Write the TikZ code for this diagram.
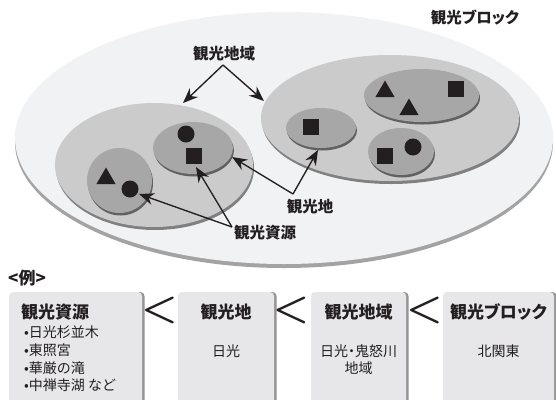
\documentclass[tikz,border=0pt]{standalone}
\usepackage{fontspec}
\usepackage{graphicx}
\newfontfamily\jp{Noto Sans CJK JP}
\newfontfamily\jpp[RawFeature=+palt]{Noto Sans CJK JP}
\usetikzlibrary{shapes.geometric,arrows.meta,shadows}
\definecolor{bigfill}{HTML}{F1F2F4}
\definecolor{regfill}{HTML}{CBCBCB}
\definecolor{smallfill}{HTML}{A7A7A7}
\definecolor{boxfill}{HTML}{E7E7E9}
\definecolor{ink}{HTML}{231F20}
\begin{document}
\begin{tikzpicture}[x=1pt,y=-1pt,
  every node/.style={text=ink},
  lbl/.style={font=\jp\bfseries\fontsize{15.5}{17}\selectfont, inner sep=0pt},
  hdr/.style={font=\jp\bfseries\fontsize{17}{19}\selectfont, inner sep=0pt},
  sub/.style={font=\jp\fontsize{14}{17}\selectfont, inner sep=0pt},
  ell/.style={ellipse, inner sep=0pt, draw=none},
  bigell/.style={ell, fill=bigfill, general shadow={fill=black!36, shadow yshift=-4pt}},
  regell/.style={ell, fill=regfill, general shadow={fill=black!50, shadow xshift=1pt, shadow yshift=-3pt}},
  smell/.style={ell, fill=smallfill, general shadow={fill=black!62, shadow xshift=1pt, shadow yshift=-2.5pt}},
  tri/.style={regular polygon, regular polygon sides=3, fill=ink, inner sep=0pt, minimum size=22pt},
  circ/.style={circle, fill=ink, inner sep=0pt, minimum size=17pt},
  sq/.style={rectangle, fill=ink, inner sep=0pt, minimum size=16pt},
  arr/.style={draw=ink, line width=1.35pt, -{Stealth[length=15pt, width=12pt]}},
  boxst/.style={rectangle, rounded corners=4pt, fill=boxfill, inner sep=0pt,
     general shadow={fill=black!42, shadow xshift=2.5pt, shadow yshift=0pt}},
  lt/.style={inner sep=0pt}
]
\clip (0,0) rectangle (556,399);
\fill[white] (0,0) rectangle (556,399);

% ellipses
\node[bigell, minimum width=538pt, minimum height=252pt] (block) at (284,138) {};
\node[regell, minimum width=198pt, minimum height=124pt] (regL) at (154,165) {};
\node[regell, minimum width=258pt, minimum height=126pt] (regR) at (390,118) {};
\node[smell, minimum width=65pt, minimum height=65pt] (spotA) at (119.5,180.5) {};
\node[smell, minimum width=80pt, minimum height=52pt] (spotB) at (193,148) {};
\node[smell, minimum width=70pt, minimum height=40pt] (spotC) at (321,128) {};
\node[smell, minimum width=115pt, minimum height=53pt] (spotD) at (421.5,95.5) {};
\node[smell, minimum width=66pt, minimum height=47pt] (spotE) at (401,151.5) {};

% resources
\node[tri] (t1) at (106,178.5) {};
\node[circ] (c1) at (130,189) {};
\node[circ] (c2) at (186,134) {};
\node[sq] (s1) at (194,156) {};
\node[sq] (s2) at (311,127) {};
\node[tri] (t2) at (385,91.5) {};
\node[tri] (t3) at (409,109.5) {};
\node[sq] (s3) at (456,89) {};
\node[sq] (s4) at (385,156) {};
\node[circ] (c3) at (413,147) {};

% labels
\node[lbl] (lblBlock) at (475,18) {\jpp 観光ブロック};
\node[lbl] (lblArea) at (224,54) {観光地域};
\node[lbl] (lblSpot) at (310,207) {観光地};
\node[lbl, anchor=west] (lblRes) at (234,233) {観光資源};

% arrows
\coordinate (apArea) at (223,65);
\coordinate (apSpot) at (293,194);
\coordinate (apRes) at (232,227);
\coordinate (tArea1) at (183,103);
\coordinate (tArea2) at (264,101);
\coordinate (tSpot1) at (232,157);
\coordinate (tSpot2) at (318,150);
\coordinate (tRes1) at (139,194);
\coordinate (tRes2) at (196,167);
\draw[arr] (apArea) -- (tArea1);
\draw[arr] (apArea) -- (tArea2);
\draw[arr] (apSpot) -- (tSpot1);
\draw[arr] (apSpot) -- (tSpot2);
\draw[arr] (apRes) -- (tRes1);
\draw[arr] (apRes) -- (tRes2);

% example
\node[lbl, anchor=west, font=\jp\bfseries\fontsize{17}{19}\selectfont] (rei) at (8,278) {<例>};

\node[boxst, minimum width=133pt, minimum height=120pt] (box1) at (75.5,352) {};
\node[boxst, minimum width=96pt, minimum height=120pt] (box2) at (226,352) {};
\node[boxst, minimum width=95pt, minimum height=120pt] (box3) at (358.5,352) {};
\node[boxst, minimum width=111pt, minimum height=120pt] (box4) at (498.5,352) {};

\node[lt] (lt1) at (159.5,310.5) {\scalebox{4.1}[4.0]{\boldmath$<$}};
\node[lt] (lt2) at (291,310.5) {\scalebox{4.1}[4.0]{\boldmath$<$}};
\node[lt] (lt3) at (424.5,310.5) {\scalebox{4.1}[4.0]{\boldmath$<$}};

\node[hdr, anchor=west] (h1) at (21,312) {観光資源};
\node[hdr] (h2) at (226,312) {観光地};
\node[hdr] (h3) at (358.5,312) {観光地域};
\node[hdr] (h4) at (498.5,312) {\jpp 観光ブロック};

\node[sub, anchor=west] (r1) at (24,332) {•日光杉並木};
\node[sub, anchor=west] (r2) at (24,350) {•東照宮};
\node[sub, anchor=west] (r3) at (24,368) {•華厳の滝};
\node[sub, anchor=west] (r4) at (24,385.5) {•中禅寺湖 など};

\node[sub] (n2) at (226,351) {日光};
\node[sub, align=center] (n3) at (358.5,360) {\jpp 日光・鬼怒川\\地域};
\node[sub] (n4) at (498.5,351) {北関東};
\end{tikzpicture}
\end{document}
